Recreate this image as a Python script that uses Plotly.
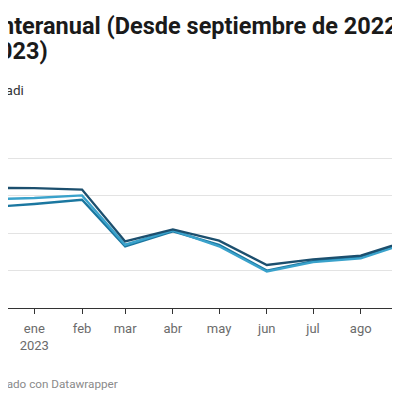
import plotly.graph_objects as go

# monthly year-on-year inflation (%), Dec 2022 .. Sep 2023
months = ["2022-12-01", "2023-01-01", "2023-02-01", "2023-03-01", "2023-04-01",
          "2023-05-01", "2023-06-01", "2023-07-01", "2023-08-01", "2023-09-01"]
espana = [6.42, 6.41, 6.33, 3.56, 4.20, 3.60, 2.30, 2.60, 2.80, 3.60]
andalucia = [5.81, 5.88, 6.02, 3.38, 4.15, 3.30, 1.95, 2.45, 2.65, 3.50]
cadiz = [5.38, 5.56, 5.79, 3.30, 4.10, 3.38, 2.00, 2.50, 2.75, 3.50]

tick_vals = months
tick_text = ["dic", "ene<br>2023", "feb", "mar", "abr", "may", "jun", "jul", "ago", "sep"]

SERIES = [
    ("Cádiz", cadiz, "#1b77a0"),
    ("Andalucía", andalucia, "#3aa2cb"),
    ("España", espana, "#1c4f6e"),
]

FONT = "Roboto, Arial, sans-serif"

fig = go.Figure()
for name, vals, color in SERIES:
    fig.add_trace(go.Scatter(x=months, y=vals, mode="lines", name=name,
                             line=dict(color=color, width=2.4), hoverinfo="skip"))

# the page body adds an 8px margin, so the canvas is smaller and offset by 8
fig.update_layout(
    width=392, height=384,
    paper_bgcolor="white", plot_bgcolor="white",
    margin=dict(l=0, r=0, t=112, b=84),
    showlegend=False,
    font=dict(family=FONT, size=13, color="#333"),
)
fig.update_xaxes(type="date", range=["2022-12-14 22:00", "2023-08-26 12:00"],
                 tickvals=tick_vals, ticktext=tick_text,
                 showgrid=False, zeroline=False,
                 showline=True, linecolor="#333", linewidth=1,
                 ticks="outside", ticklen=5, tickcolor="#333", tickwidth=1,
                 ticklabelstandoff=3,
                 tickfont=dict(family=FONT, size=13, color="#6b6b6b"))
fig.update_yaxes(range=[0, 10.05], dtick=2, showticklabels=False,
                 showgrid=True, gridcolor="#e3e3e3", gridwidth=1, zeroline=False)

# title, description and footer (chart is cropped on the left)
fig.add_annotation(text="<b>Inflación interanual (Desde septiembre de 2022</b>",
                   xref="paper", yref="paper", x=0, y=1, xshift=-113, yshift=78,
                   xanchor="left", yanchor="bottom", showarrow=False,
                   font=dict(family=FONT, size=23.5, color="#1a1a1a"))
fig.add_annotation(text="<b>a septiembre de 2023)</b>",
                   xref="paper", yref="paper", x=0, y=1, xshift=42, yshift=53,
                   xanchor="right", yanchor="bottom", showarrow=False,
                   font=dict(family=FONT, size=23.5, color="#1a1a1a"))
fig.add_annotation(text="Fuente: INE / Cadi",
                   xref="paper", yref="paper", x=0, y=1, xshift=18, yshift=20,
                   xanchor="right", yanchor="bottom", showarrow=False,
                   font=dict(family=FONT, size=13.5, color="#333"))
fig.add_annotation(text="Creado con Datawrapper",
                   xref="paper", yref="paper", x=0, y=0, xshift=112, yshift=-67,
                   xanchor="right", yanchor="top", showarrow=False,
                   font=dict(family=FONT, size=11.7, color="#8a8a8a"))

fig.write_html("out.html")
